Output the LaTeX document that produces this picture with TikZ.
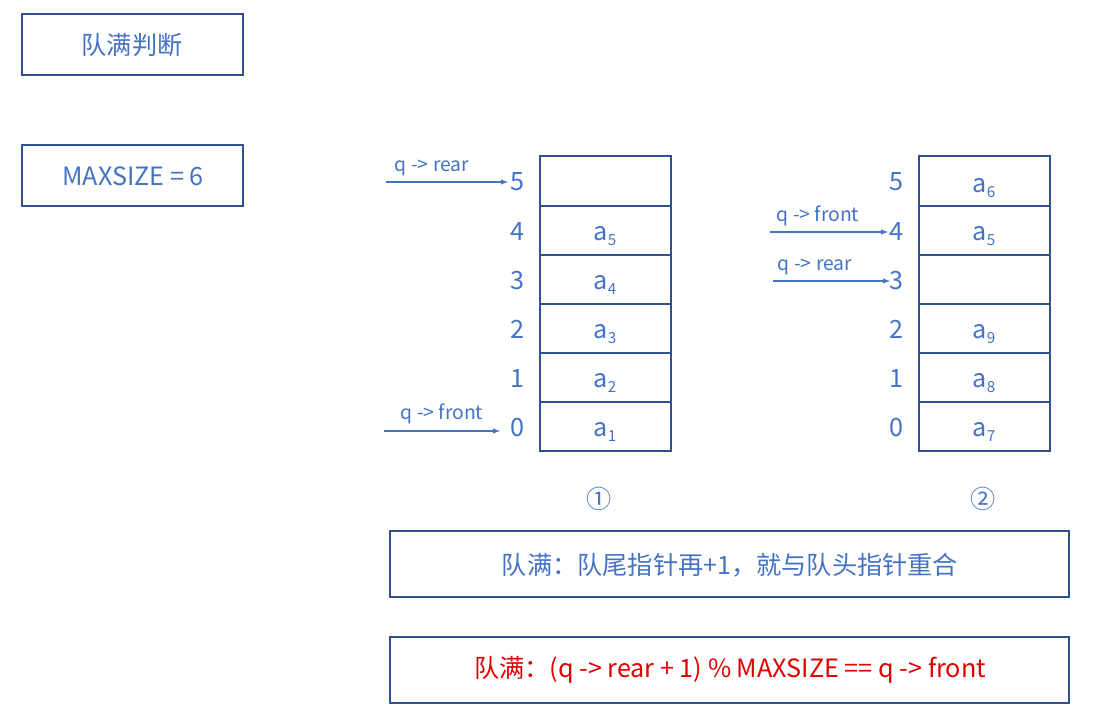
\documentclass[tikz,border=0pt]{standalone}
\usepackage{fontspec}
\setmainfont{Noto Sans CJK SC}
\definecolor{tb}{HTML}{4472C4}
\definecolor{bd}{HTML}{2F528F}
\definecolor{rd}{HTML}{E00000}
\newcommand{\subs}[1]{\raisebox{-0.35ex}{\fontsize{13}{15}\selectfont #1}}
\begin{document}
\begin{tikzpicture}[x=0.03cm,y=-0.03cm,
  box/.style={draw=bd,line width=1.3pt},
  cell/.style={draw=bd,line width=1.2pt},
  lab/.style={text=tb,font=\fontsize{21.5}{25}\selectfont,inner sep=0},
  sm/.style={text=tb,font=\fontsize{16.5}{19}\selectfont,inner sep=0},
  arr/.style={draw=tb,line width=1pt,-latex}]
\useasboundingbox (0,0) rectangle (1115,728);
\draw[box] (22,14) rectangle (243,75);
\node[lab] (t1) at (132,45) {队满判断};
\draw[box] (22,145) rectangle (243,206);
\node[lab] (t2) at (133,176) {MAXSIZE = 6};
% stacks
\foreach \X/\L in {540/517,919/896}{
  \foreach \i/\ya/\yb in {5/156/206,4/206/255,3/255/304,2/304/353,1/353/402,0/402/451}{
    \draw[cell] (\X,\ya) rectangle (\X+131,\yb);
    \node[lab] at (\L,{(\ya+\yb)/2+1}) {\i};
  }
}
\foreach \x/\y/\t in {605/236/5,605/285/4,605/334/3,605/383/2,605/432/1,984/188/6,984/236/5,984/334/9,984/383/8,984/432/7}
  \node[lab] at (\x,\y) {a\subs{\t}};
% pointers
\node[sm] (r1) at (432,168) {q -> rear};
\coordinate (r1a) at (386,182); \coordinate (r1b) at (508,182);
\draw[arr] (r1a) -- (r1b);
\node[sm] (f1) at (442,414) {q -> front};
\coordinate (f1a) at (384,431); \coordinate (f1b) at (500,431);
\draw[arr] (f1a) -- (f1b);
\node[sm] (f2) at (818,216) {q -> front};
\coordinate (f2a) at (770,232); \coordinate (f2b) at (888,232);
\draw[arr] (f2a) -- (f2b);
\node[sm] (r2) at (815,267) {q -> rear};
\coordinate (r2a) at (773,281); \coordinate (r2b) at (890,281);
\draw[arr] (r2a) -- (r2b);
\node[lab] (c1) at (599,499) {①};
\node[lab] (c2) at (983,499) {②};
\draw[box] (390,531) rectangle (1069,597);
\node[lab] (b3) at (730,565) {队满：队尾指针再+1，就与队头指针重合};
\draw[box] (390,637) rectangle (1069,703);
\node[lab,text=rd] (b4) at (730,670) {队满：(q -> rear + 1) \% MAXSIZE == q -> front};
\end{tikzpicture}
\end{document}
